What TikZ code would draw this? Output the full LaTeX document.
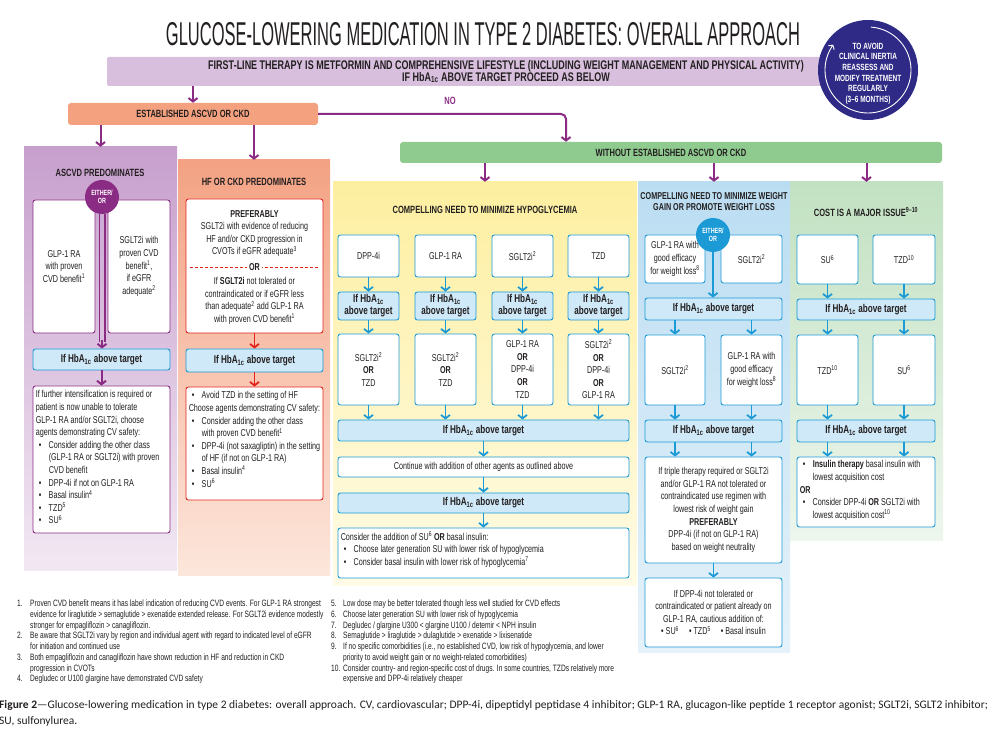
\documentclass[tikz,border=0pt]{standalone}
\usepackage{fontspec}
\setmainfont{Liberation Sans}[FakeStretch=0.72]
\newfontfamily\titlefont{Liberation Sans}[FakeStretch=0.5]
\newfontfamily\capfont{Carlito}
\usetikzlibrary{arrows.meta,calc}
\definecolor{ctext}{HTML}{231F20}
\definecolor{cpur}{HTML}{8B2C84}
\definecolor{cnavy}{HTML}{2F2A85}
\definecolor{cbar}{HTML}{D9BFDE}
\definecolor{cest}{HTML}{F4A17F}
\definecolor{cgbar}{HTML}{8FCB8F}
\definecolor{cblue}{HTML}{1C9AD6}
\definecolor{chb}{HTML}{CFE9F8}
\definecolor{cred}{HTML}{E2231A}
\definecolor{cAt}{HTML}{C79FCD}
\definecolor{cAb}{HTML}{F2E8F3}
\definecolor{cHt}{HTML}{F3A283}
\definecolor{cHb}{HTML}{FCE6DB}
\definecolor{cYt}{HTML}{FDEFA0}
\definecolor{cYb}{HTML}{FFFBE6}
\definecolor{cBt}{HTML}{BBDDF2}
\definecolor{cBb}{HTML}{E5F2FA}
\definecolor{cGt}{HTML}{C2E1C2}
\definecolor{cGb}{HTML}{EDF6ED}
\newcommand\fb{\fontsize{10}{12.6}\selectfont}
\newcommand\fh{\fontsize{10.5}{11.5}\selectfont\bfseries}
\newcommand\fhb{\fontsize{11.3}{12}\selectfont\bfseries}
\newcommand\fbar{\fontsize{12.5}{12}\selectfont\bfseries}
\newcommand\fcirc{\fontsize{9}{10.6}\selectfont\bfseries}
\newcommand\fn{\fontsize{9.2}{10.7}\selectfont}
\newcommand\itm{\hspace*{3pt}\makebox[10pt][l]{\textbullet}}
\newcommand\ind{\hspace*{13pt}}
\newcommand\hba{HbA\textsubscript{1c}}
\newcommand\bx[7]{\node[#2,minimum width={(#5)-(#3)},minimum height={(#6)-(#4)}] (#1) at ({((#3)+(#5))/2},{((#4)+(#6))/2}) {#7};}
\tikzset{
 every node/.append style={text=ctext},
 panelsty/.style={draw=none, inner sep=0pt},
 basebox/.style={rounded corners=2.5pt, line width=0.9pt, align=center, font=\fb, inner sep=1pt, fill=white},
 wbox/.style={basebox, draw=cblue},
 pbox/.style={basebox, draw=cpur},
 rbox/.style={basebox, draw=cred},
 hbox/.style={basebox, draw=cblue, fill=chb, font=\fhb},
 tipsty/.style={-{Straight Barb[length=3.5pt,width=9pt]}},
 parr/.style={draw=cpur, line width=2pt, tipsty},
 barr/.style={draw=cblue, line width=1.8pt, tipsty},
 rarr/.style={draw=cred, line width=1.8pt, tipsty},
 eocirc/.style={circle, minimum size=34, inner sep=0pt, font=\fontsize{7.5}{8}\selectfont\bfseries, text=white, align=center},
 ptitle/.style={font=\fh, align=center},
 listtxt/.style={anchor=north west, font=\fb, align=left, inner sep=1pt},
}
\begin{document}
\begin{tikzpicture}[x=1pt,y=-1pt]
\useasboundingbox (0,0) rectangle (997,735);
\fill[white] (0,0) rectangle (997,735);

% ---------- title and top bar
\node[font=\titlefont\fontsize{33}{36}\selectfont] (title) at (483,34) {GLUCOSE-LOWERING MEDICATION IN TYPE 2 DIABETES: OVERALL APPROACH};
\bx{bar}{draw=none, fill=cbar, rounded corners=2pt}{107}{57}{835}{86}{}
\node[font=\fbar, align=center] (bartxt) at (506,71.5) {FIRST-LINE THERAPY IS METFORMIN AND COMPREHENSIVE LIFESTYLE (INCLUDING WEIGHT MANAGEMENT AND PHYSICAL ACTIVITY)\\IF \hba{} ABOVE TARGET PROCEED AS BELOW};
\node[circle, fill=cnavy, minimum size=100, inner sep=0pt] (circ) at (868,70) {};
\draw[white, line width=0.9pt, -{Straight Barb[length=3pt,width=7pt]}] plot[domain=86:-216, samples=80] ({868+43*cos(\x)},{70-43*sin(\x)});
\node[text=white, align=center, font=\fcirc] (circtxt) at (868,73.5) {TO AVOID\\CLINICAL INERTIA\\REASSESS AND\\MODIFY TREATMENT\\REGULARLY\\(3\textendash 6 MONTHS)};

% ---------- established / without
\bx{estab}{draw=none, fill=cest, rounded corners=3pt, font=\fh}{68}{103}{318}{125}{ESTABLISHED ASCVD OR CKD}
\draw[parr] (bar.south -| estab.north) -- (estab.north);
\node[text=cpur, font=\fh] (no) at (450,101) {NO};
\bx{gbar}{draw=none, fill=cgbar, rounded corners=3pt, font=\fh}{400}{142}{942}{163}{WITHOUT ESTABLISHED ASCVD OR CKD}
\coordinate (nocorner) at (566,114);
\draw[draw=cpur, line width=2pt, rounded corners=5pt, tipsty] (estab.east) -- (nocorner) -- (nocorner |- gbar.north);

% ---------- panels
\bx{pA}{panelsty, top color=cAt, bottom color=cAb}{24}{147}{177}{570}{}
\bx{pH}{panelsty, top color=cHt, bottom color=cHb}{178}{160}{330}{575}{}
\bx{pY}{panelsty, top color=cYt, bottom color=cYb}{333}{182}{637}{585}{}
\bx{pB}{panelsty, top color=cBt, bottom color=cBb}{638}{182}{790}{652}{}
\bx{pG}{panelsty, top color=cGt, bottom color=cGb}{790}{182}{943}{540}{}
\draw[parr] (estab.south -| pA.north) -- (pA.north);
\draw[parr] (estab.south -| pH.north) -- (pH.north);
\draw[parr] (gbar.south -| pY.north) -- (pY.north);
\draw[parr] (gbar.south -| pB.north) -- (pB.north);
\draw[parr] (gbar.south -| pG.north) -- (pG.north);

% ---------- ASCVD predominates
\node[ptitle] (tA) at (100,173) {ASCVD PREDOMINATES};
\bx{a1}{pbox}{33}{200}{95}{333}{GLP-1 RA\\with proven\\CVD benefit\textsuperscript{1}}
\bx{a2}{pbox}{108}{200}{170}{333}{SGLT2i with\\proven CVD\\benefit\textsuperscript{1},\\if eGFR\\adequate\textsuperscript{2}}
\node[eocirc, fill=cpur] (eo1) at (102,197) {EITHER/\\OR};
\bx{hb1}{hbox}{33}{349}{170}{370}{If \hba{} above target}
\coordinate (dA) at (eo1.south |- hb1.north);
\draw[cpur, line width=1.4pt] ([xshift=-2.8pt]eo1.south) -- ([xshift=-2.8pt,yshift=7pt]dA);
\draw[cpur, line width=1.4pt] ([xshift=2.8pt]eo1.south) -- ([xshift=2.8pt,yshift=7pt]dA);
\draw[parr] ([yshift=9pt]dA) -- (dA);
\bx{a3}{pbox}{33}{386}{170}{533}{}
\draw[parr] (hb1.south) -- (a3.north);
\node[listtxt] (a3t) at ([xshift=2pt,yshift=-4pt]a3.north west) {If further intensification is required or\\
patient is now unable to tolerate\\
GLP-1 RA and/or SGLT2i, choose\\
agents demonstrating CV safety:\\
\itm Consider adding the other class\\
\ind (GLP-1 RA or SGLT2i) with proven\\
\ind CVD benefit\\
\itm DPP-4i if not on GLP-1 RA\\
\itm Basal insulin\textsuperscript{4}\\
\itm TZD\textsuperscript{5}\\
\itm SU\textsuperscript{6}};

% ---------- HF or CKD predominates
\node[ptitle] (tH) at (254,182) {HF OR CKD PREDOMINATES};
\bx{r1}{rbox}{186}{199}{323}{333}{}
\node[align=center, font=\fb] (r1a) at (254.5,233.5) {\textbf{PREFERABLY}\\SGLT2i with evidence of reducing\\HF and/or CKD progression in\\CVOTs if eGFR adequate\textsuperscript{3}};
\coordinate (orl) at (190,267);
\coordinate (orr) at (319,267);
\draw[cred, line width=0.7pt, dash pattern=on 3pt off 2pt] (orl) -- (orr);
\node[fill=white, font=\fb\bfseries, inner sep=2pt] (ortxt) at (254.5,267) {OR};
\node[align=center, font=\fb] (r1b) at (254.5,301) {If \textbf{SGLT2i} not tolerated or\\contraindicated or if eGFR less\\than adequate\textsuperscript{2} add GLP-1 RA\\with proven CVD benefit\textsuperscript{1}};
\bx{hb2}{hbox}{186}{349}{323}{372}{If \hba{} above target}
\draw[rarr] (r1.south) -- (hb2.north);
\bx{r2}{rbox}{186}{387}{323}{500}{}
\draw[rarr] (hb2.south) -- (r2.north);
\node[listtxt] (r2t) at ([xshift=2pt,yshift=-4pt]r2.north west) {\itm Avoid TZD in the setting of HF\\
Choose agents demonstrating CV safety:\\
\itm Consider adding the other class\\
\ind with proven CVD benefit\textsuperscript{1}\\
\itm DPP-4i (not saxagliptin) in the setting\\
\ind of HF (if not on GLP-1 RA)\\
\itm Basal insulin\textsuperscript{4}\\
\itm SU\textsuperscript{6}};

% ---------- Hypoglycemia
\node[ptitle] (tY) at (485,210) {COMPELLING NEED TO MINIMIZE HYPOGLYCEMIA};
\bx{y1}{wbox}{338}{235}{399}{277}{DPP-4i}
\bx{y2}{wbox}{415}{235}{476}{277}{GLP-1 RA}
\bx{y3}{wbox}{492}{235}{553}{277}{SGLT2i\textsuperscript{2}}
\bx{y4}{wbox}{568}{235}{629}{277}{TZD}
\bx{yh1}{hbox}{338}{292}{399}{320}{If \hba\\above target}
\bx{yh2}{hbox}{415}{292}{476}{320}{If \hba\\above target}
\bx{yh3}{hbox}{492}{292}{553}{320}{If \hba\\above target}
\bx{yh4}{hbox}{568}{292}{629}{320}{If \hba\\above target}
\bx{yr1}{wbox}{338}{334}{399}{405}{SGLT2i\textsuperscript{2}\\\textbf{OR}\\TZD}
\bx{yr2}{wbox}{415}{334}{476}{405}{SGLT2i\textsuperscript{2}\\\textbf{OR}\\TZD}
\bx{yr3}{wbox}{492}{334}{553}{405}{GLP-1 RA\\\textbf{OR}\\DPP-4i\\\textbf{OR}\\TZD}
\bx{yr4}{wbox}{568}{334}{629}{405}{SGLT2i\textsuperscript{2}\\\textbf{OR}\\DPP-4i\\\textbf{OR}\\GLP-1 RA}
\bx{yhw}{hbox}{338}{420}{629}{441}{If \hba{} above target}
\foreach \i in {1,2,3,4}{
 \draw[barr] (y\i.south) -- (yh\i.north);
 \draw[barr] (yh\i.south) -- (yr\i.north);
 \draw[barr] (yr\i.south) -- (yr\i.south |- yhw.north);
}
\bx{ycont}{wbox}{338}{457}{629}{477}{Continue with addition of other agents as outlined above}
\bx{yhw2}{hbox}{338}{493}{629}{513}{If \hba{} above target}
\bx{ycons}{wbox}{338}{528}{629}{578}{}
\draw[barr] (yhw.south) -- (ycont.north);
\draw[barr] (ycont.south) -- (yhw2.north);
\draw[barr] (yhw2.south) -- (ycons.north);
\node[listtxt] (yconst) at ([xshift=2pt,yshift=-3pt]ycons.north west) {Consider the addition of SU\textsuperscript{6} \textbf{OR} basal insulin:\\
\itm Choose later generation SU with lower risk of hypoglycemia\\
\itm Consider basal insulin with lower risk of hypoglycemia\textsuperscript{7}};

% ---------- Weight
\node[ptitle, font=\fontsize{10}{11}\selectfont\bfseries] (tB) at (714,201.5) {COMPELLING NEED TO MINIMIZE WEIGHT\\GAIN OR PROMOTE WEIGHT LOSS};
\bx{bx1}{wbox}{645}{235}{705}{283}{GLP-1 RA with\\good efficacy\\for weight loss\textsuperscript{8}}
\bx{bx2}{wbox}{721}{235}{782}{283}{SGLT2i\textsuperscript{2}}
\node[eocirc, fill=cblue] (eo2) at (713,235) {EITHER/\\OR};
\bx{bh1}{hbox}{645}{298}{782}{320}{If \hba{} above target}
\draw[barr] (eo2.south) -- (eo2.south |- bh1.north);
\bx{bx3}{wbox}{645}{335}{705}{405}{SGLT2i\textsuperscript{2}}
\bx{bx4}{wbox}{721}{335}{782}{405}{GLP-1 RA with\\good efficacy\\for weight loss\textsuperscript{8}}
\draw[barr] (bh1.south -| bx3.north) -- (bx3.north);
\draw[barr] (bh1.south -| bx4.north) -- (bx4.north);
\bx{bh2}{hbox}{645}{420}{782}{442}{If \hba{} above target}
\draw[barr] (bx3.south) -- (bx3.south |- bh2.north);
\draw[barr] (bx4.south) -- (bx4.south |- bh2.north);
\bx{bx5}{wbox}{645}{457}{782}{563}{If triple therapy required or SGLT2i\\and/or GLP-1 RA not tolerated or\\contraindicated use regimen with\\lowest risk of weight gain\\\textbf{PREFERABLY}\\DPP-4i (if not on GLP-1 RA)\\based on weight neutrality}
\draw[barr] (bh2.south -| bx3.south) -- (bx5.north -| bx3.south);
\draw[barr] (bh2.south -| bx4.south) -- (bx5.north -| bx4.south);
\bx{bx6}{wbox}{645}{578}{782}{647}{If DPP-4i not tolerated or\\contraindicated or patient already on\\GLP-1 RA, cautious addition of:\\\textbullet\ SU\textsuperscript{6}\quad\textbullet\ TZD\textsuperscript{5}\quad\textbullet\ Basal insulin}
\draw[barr] (bx5.south) -- (bx6.north);

% ---------- Cost
\node[ptitle] (tG) at (866,212) {COST IS A MAJOR ISSUE\textsuperscript{9\textendash 10}};
\bx{g1}{wbox}{797}{235}{858}{284}{SU\textsuperscript{6}}
\bx{g2}{wbox}{873}{235}{935}{284}{TZD\textsuperscript{10}}
\bx{gh1}{hbox}{797}{299}{935}{320}{If \hba{} above target}
\bx{g3}{wbox}{797}{335}{858}{405}{TZD\textsuperscript{10}}
\bx{g4}{wbox}{873}{335}{935}{405}{SU\textsuperscript{6}}
\bx{gh2}{hbox}{797}{420}{935}{442}{If \hba{} above target}
\bx{g5}{wbox}{797}{457}{935}{527}{}
\draw[barr] (g1.south) -- (g1.south |- gh1.north);
\draw[barr] (g2.south) -- (g2.south |- gh1.north);
\draw[barr] (gh1.south -| g3.north) -- (g3.north);
\draw[barr] (gh1.south -| g4.north) -- (g4.north);
\draw[barr] (g3.south) -- (g3.south |- gh2.north);
\draw[barr] (g4.south) -- (g4.south |- gh2.north);
\draw[barr] (gh2.south -| g3.south) -- (g5.north -| g3.south);
\draw[barr] (gh2.south -| g4.south) -- (g5.north -| g4.south);
\node[listtxt] (g5t) at ([xshift=2pt,yshift=-3pt]g5.north west) {\itm \textbf{Insulin therapy} basal insulin with\\
\ind lowest acquisition cost\\
\textbf{OR}\\
\itm Consider DPP-4i \textbf{OR} SGLT2i with\\
\ind lowest acquisition cost\textsuperscript{10}};

% ---------- footnotes
\node[anchor=north west, font=\fn, align=left, inner sep=0pt] (fnL) at (17,600) {%
\makebox[13pt][l]{1.}Proven CVD benefit means it has label indication of reducing CVD events. For GLP-1 RA strongest\\
\hspace*{13pt}evidence for liraglutide > semaglutide > exenatide extended release. For SGLT2i evidence modestly\\
\hspace*{13pt}stronger for empagliflozin > canagliflozin.\\
\makebox[13pt][l]{2.}Be aware that SGLT2i vary by region and individual agent with regard to indicated level of eGFR\\
\hspace*{13pt}for initiation and continued use\\
\makebox[13pt][l]{3.}Both empagliflozin and canagliflozin have shown reduction in HF and reduction in CKD\\
\hspace*{13pt}progression in CVOTs\\
\makebox[13pt][l]{4.}Degludec or U100 glargine have demonstrated CVD safety};
\node[anchor=north west, font=\fn, align=left, inner sep=0pt] (fnR) at (331,600) {%
\makebox[12pt][l]{5.}Low dose may be better tolerated though less well studied for CVD effects\\
\makebox[12pt][l]{6.}Choose later generation SU with lower risk of hypoglycemia\\
\makebox[12pt][l]{7.}Degludec / glargine U300 < glargine U100 / detemir < NPH insulin\\
\makebox[12pt][l]{8.}Semaglutide > liraglutide > dulaglutide > exenatide > lixisenatide\\
\makebox[12pt][l]{9.}If no specific comorbidities (i.e., no established CVD, low risk of hypoglycemia, and lower\\
\hspace*{12pt}priority to avoid weight gain or no weight-related comorbidities)\\
\makebox[12pt][l]{10.}Consider country- and region-specific cost of drugs. In some countries, TZDs relatively more\\
\hspace*{12pt}expensive and DPP-4i relatively cheaper};

% ---------- caption
\node[anchor=north west, font=\capfont\fontsize{11.5}{16}\selectfont, align=left, inner sep=0pt] (cap) at (-1,700) {\textbf{Figure 2}\textemdash Glucose-lowering medication in type 2 diabetes: overall approach. CV, cardiovascular; DPP-4i, dipeptidyl peptidase 4 inhibitor; GLP-1 RA, glucagon-like peptide 1 receptor agonist; SGLT2i, SGLT2 inhibitor;\\SU, sulfonylurea.};
\end{tikzpicture}
\end{document}
